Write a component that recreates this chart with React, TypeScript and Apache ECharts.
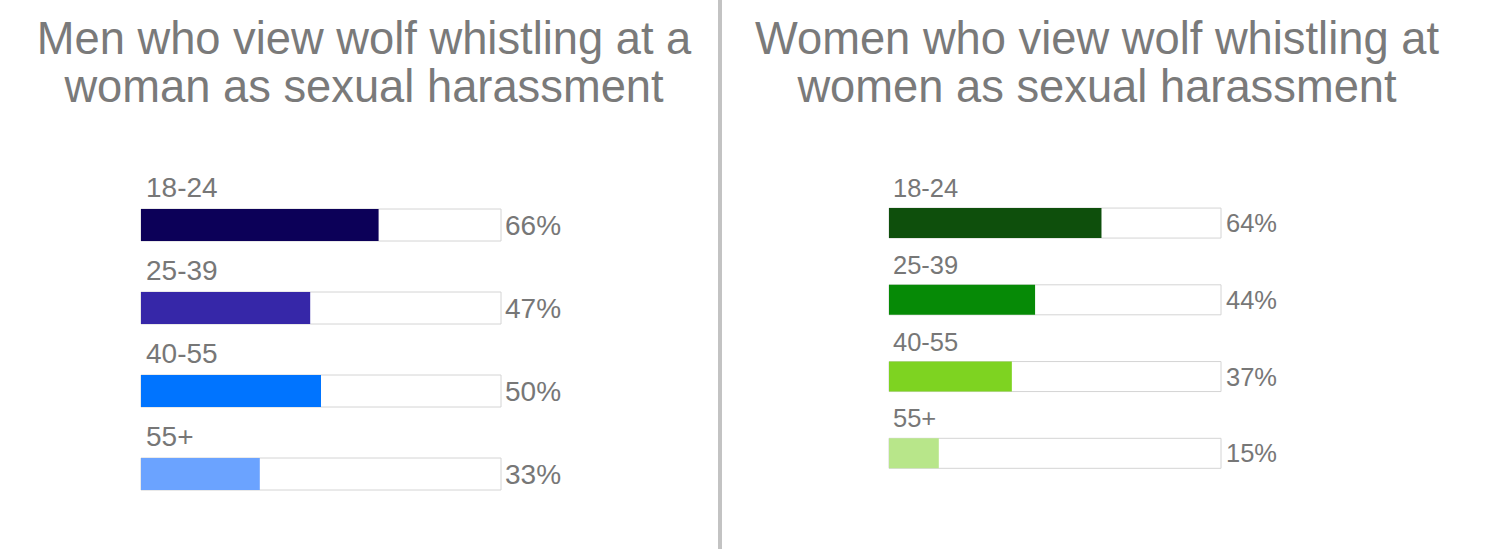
import React, { useEffect, useRef } from "react";
import * as echarts from "echarts";

const ageGroups = ["18-24", "25-39", "40-55", "55+"];
const menValues = [66, 47, 50, 33];
const womenValues = [64, 44, 37, 15];
const menColors = ["#0c0058", "#3627a8", "#0074ff", "#6ba3ff"];
const womenColors = ["#0e4f0c", "#068a06", "#7ed321", "#b8e68a"];
const menTitle = "Men who view wolf whistling at a\nwoman as sexual harassment";
const womenTitle = "Women who view wolf whistling at\nwomen as sexual harassment";

const FONT = "'Liberation Sans', Arial, Helvetica, sans-serif";
const TEXT = "#777777";

export default function App() {
  const ref = useRef<HTMLDivElement>(null);
  useEffect(() => {
    if (!ref.current) return;
    const chart = echarts.init(ref.current, undefined, { renderer: "svg" });

    const panel = (gi: number, values: number[], colors: string[], fs: number, barW: number, labelOff: number, labelX: number, valMargin: number) => ({
      series: {
        type: "bar",
        xAxisIndex: gi,
        yAxisIndex: gi * 2,
        barWidth: barW,
        showBackground: true,
        backgroundStyle: { color: "#ffffff", borderColor: "#d4d4d4", borderWidth: 1 },
        data: values.map((v, i) => ({ value: v, itemStyle: { color: colors[i] } })),
        label: {
          show: true,
          formatter: "{b}",
          position: [labelX, labelOff],
          align: "left",
          verticalAlign: "middle",
          fontSize: fs,
          color: TEXT,
          fontFamily: FONT,
        },
      },
      yAxes: [
        {
          type: "category",
          gridIndex: gi,
          data: ageGroups,
          inverse: true,
          axisLine: { show: false },
          axisTick: { show: false },
          axisLabel: { show: false },
        },
        {
          type: "category",
          gridIndex: gi,
          position: "right",
          data: values.map((v) => v + "%"),
          inverse: true,
          axisLine: { show: false },
          axisTick: { show: false },
          axisLabel: { show: true, margin: valMargin, fontSize: fs, color: TEXT, fontFamily: FONT },
        },
      ],
    });

    const left = panel(0, menValues, menColors, 28, 32, -22, 5, 4);
    const right = panel(1, womenValues, womenColors, 25.5, 30, -20, 4, 5);

    const titleStyle = { fontSize: 45.3, lineHeight: 48, color: "#7a7a7a", fontWeight: "normal", fontFamily: FONT };

    chart.setOption({
      animation: false,
      backgroundColor: "#ffffff",
      textStyle: { fontFamily: FONT },
      title: [
        { text: menTitle, left: 359, top: 9, textAlign: "center", textStyle: titleStyle },
        { text: womenTitle, left: 1092, top: 9, textAlign: "center", textStyle: titleStyle },
      ],
      grid: [
        { left: 141, width: 360, top: 183.5, height: 332 },
        { left: 889, width: 332, top: 184.7, height: 307 },
      ],
      xAxis: [
        { type: "value", gridIndex: 0, min: 0, max: 100, show: false },
        { type: "value", gridIndex: 1, min: 0, max: 100, show: false },
      ],
      yAxis: [...left.yAxes, ...right.yAxes],
      series: [left.series, right.series],
      graphic: [
        {
          type: "line",
          shape: { x1: 720, y1: 0, x2: 720, y2: 549 },
          style: { stroke: "#c3c3c3", lineWidth: 4 },
        },
      ],
    });
    return () => chart.dispose();
  }, []);
  return <div ref={ref} style={{ position: "fixed", left: 0, top: 0, width: 1492, height: 549 }} />;
}
